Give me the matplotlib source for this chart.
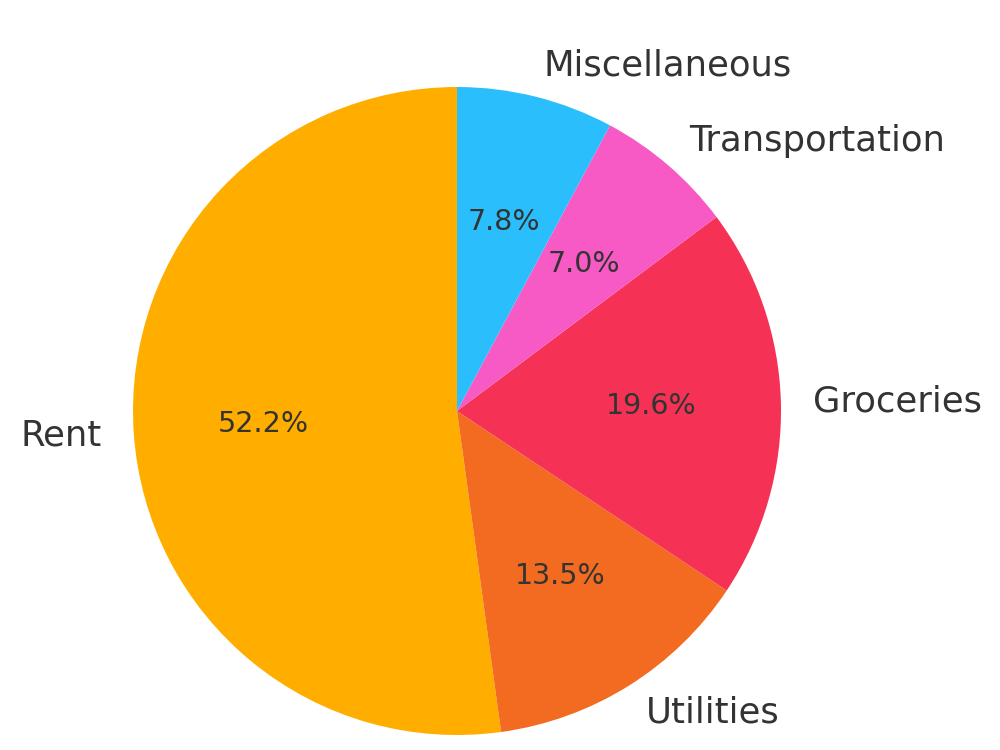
import matplotlib
matplotlib.use("Agg")
import matplotlib.pyplot as plt

categories = ["Rent", "Utilities", "Groceries", "Transportation", "Miscellaneous"]
amounts = [1200, 310, 450, 160, 180]
colors = ["#FFAE00", "#F26B21", "#F53256", "#F75AC4", "#2BBEFD"]

fig = plt.figure(figsize=(10, 7.5), dpi=100)
# pie centre ~ (457, 339) px from bottom-left, radius ~324 px
r = 324
size = 2.5 * r
ax = fig.add_axes([(457 - size / 2) / 1000, (339 - size / 2) / 750, size / 1000, size / 750])

wedges, texts, autotexts = ax.pie(
    amounts, labels=categories, colors=colors, startangle=90,
    autopct="%1.1f%%", pctdistance=0.6, labeldistance=1.1,
    textprops={"color": "#333333"},
)
for t in texts:
    t.set_fontsize(25.5)
for t in autotexts:
    t.set_fontsize(20.5)

ax.set_xlim(-1.25, 1.25)
ax.set_ylim(-1.25, 1.25)
ax.set_aspect("equal")
ax.axis("off")

fig.savefig("out.png", dpi=100)
